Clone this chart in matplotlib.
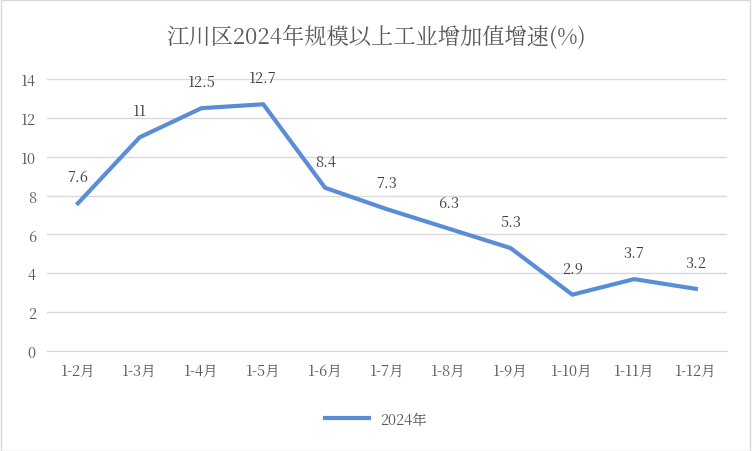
import matplotlib
matplotlib.use("Agg")
import matplotlib.pyplot as plt
from matplotlib import font_manager
from matplotlib.patches import Rectangle

cjk = None
for f in font_manager.fontManager.ttflist:
    if "CJK" in f.name and ("SC" in f.name or cjk is None):
        cjk = f.name
import glob
if cjk is None:
    for p in glob.glob("/usr/share/fonts/**/*CJK*", recursive=True):
        try:
            font_manager.fontManager.addfont(p)
            cjk = font_manager.FontProperties(fname=p).get_name()
            break
        except Exception:
            pass
plt.rcParams["font.family"] = [cjk or "Noto Sans CJK SC", "DejaVu Sans"]

categories = ["1-2月", "1-3月", "1-4月", "1-5月", "1-6月", "1-7月", "1-8月", "1-9月", "1-10月", "1-11月", "1-12月"]
values = [7.6, 11, 12.5, 12.7, 8.4, 7.3, 6.3, 5.3, 2.9, 3.7, 3.2]
labels = ["7.6", "11", "12.5", "12.7", "8.4", "7.3", "6.3", "5.3", "2.9", "3.7", "3.2"]
series_name = "2024年"
title = "江川区2024年规模以上工业增加值增速(%)"

fig = plt.figure(figsize=(7.52, 4.52), dpi=100)
ax = fig.add_axes([0.0625, 0.2212, 0.904, 0.6018])
x = list(range(len(categories)))
color = "#5B8DD6"
ax.plot(x, values, color=color, lw=3, solid_joinstyle="round", label=series_name)
for xi, v, t in zip(x, values, labels):
    ax.annotate(t, (xi, v), xytext=(0, 13), textcoords="offset points",
                ha="center", va="bottom", fontsize=10.5, color="#404040")
ax.set_xlim(-0.5, len(categories) - 0.5)
ax.set_ylim(0, 14)
ax.set_yticks(range(0, 15, 2))
ax.set_xticks(x)
ax.set_xticklabels(categories)
ax.tick_params(length=0, labelsize=10.5, colors="#595959", pad=8)
ax.grid(axis="y", color="#d9d9d9", lw=1)
ax.set_axisbelow(True)
for s in ["top", "right", "left"]:
    ax.spines[s].set_visible(False)
ax.spines["bottom"].set_color("#d9d9d9")
fig.text(0.5, 0.915, title, ha="center", va="center", fontsize=16, color="#595959")
fig.legend(loc="center", bbox_to_anchor=(0.5, 0.07), frameon=False, fontsize=10.5,
           labelcolor="#595959", handlelength=3)
fig.patches.append(Rectangle((0.001, 0.001), 0.997, 0.997, transform=fig.transFigure,
                             fill=False, edgecolor="#d9d9d9", lw=1))
fig.savefig("out.png", dpi=100)
